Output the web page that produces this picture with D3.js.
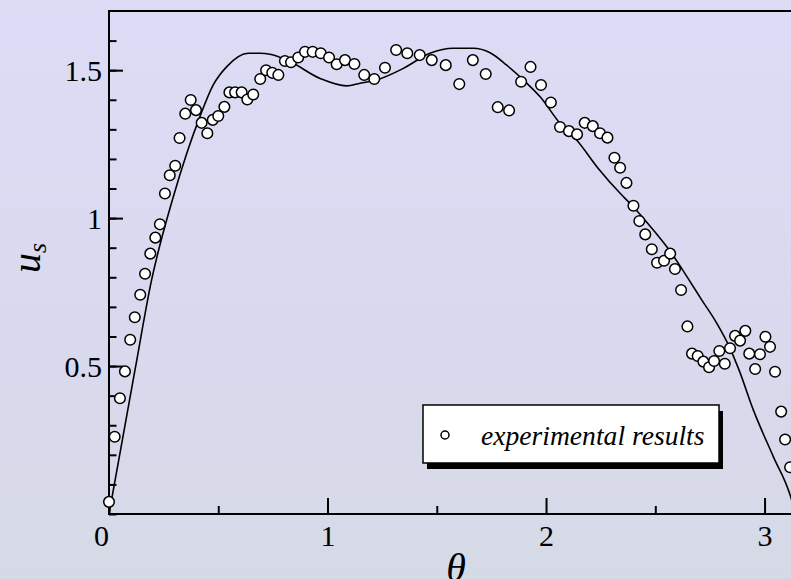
<!DOCTYPE html>
<html>
<head>
<meta charset="utf-8">
<script src="https://cdn.jsdelivr.net/npm/d3@7.9.0/dist/d3.min.js"></script>
<style>
  html, body { margin: 0; padding: 0; overflow: hidden; }
  svg { display: block; }
  text { font-family: "Liberation Serif", "DejaVu Serif", serif; fill: #000; }
</style>
</head>
<body>
<div id="chart"></div>
<script>
// experimental points (theta, u_s)
const thetaExp = [
  0.000, 0.026, 0.050, 0.073, 0.097, 0.118, 0.143, 0.165, 0.189, 0.212,
  0.233, 0.256, 0.278, 0.303, 0.323, 0.349, 0.374, 0.398, 0.424, 0.450,
  0.475, 0.500, 0.528, 0.551, 0.577, 0.607, 0.633, 0.660, 0.692, 0.719,
  0.747, 0.775, 0.805, 0.833, 0.866, 0.897, 0.932, 0.969, 1.007, 1.042,
  1.080, 1.123, 1.168, 1.214, 1.263, 1.314, 1.365, 1.422, 1.477, 1.541,
  1.603, 1.665, 1.724, 1.779, 1.831, 1.886, 1.929, 1.977, 2.022, 2.064,
  2.105, 2.142, 2.177, 2.214, 2.247, 2.281, 2.313, 2.339, 2.368, 2.400,
  2.427, 2.454, 2.484, 2.508, 2.540, 2.568, 2.590, 2.618, 2.647, 2.668,
  2.694, 2.720, 2.746, 2.769, 2.793, 2.818, 2.842, 2.865, 2.888, 2.912,
  2.930, 2.957, 2.979, 3.004, 3.025, 3.048, 3.076, 3.094, 3.117
];
const usExp = [
  0.041, 0.261, 0.391, 0.482, 0.589, 0.665, 0.741, 0.812, 0.880, 0.934,
  0.979, 1.083, 1.145, 1.177, 1.271, 1.353, 1.399, 1.365, 1.322, 1.287,
  1.332, 1.345, 1.376, 1.425, 1.425, 1.425, 1.401, 1.418, 1.470, 1.500,
  1.491, 1.484, 1.531, 1.527, 1.543, 1.562, 1.562, 1.557, 1.543, 1.520,
  1.534, 1.521, 1.484, 1.470, 1.508, 1.568, 1.557, 1.551, 1.534, 1.517,
  1.453, 1.534, 1.487, 1.375, 1.364, 1.461, 1.511, 1.450, 1.391, 1.308,
  1.294, 1.283, 1.322, 1.311, 1.287, 1.272, 1.204, 1.170, 1.119, 1.042,
  0.990, 0.945, 0.895, 0.849, 0.856, 0.880, 0.828, 0.757, 0.634, 0.542,
  0.534, 0.515, 0.496, 0.517, 0.551, 0.508, 0.560, 0.602, 0.586, 0.619,
  0.542, 0.490, 0.540, 0.599, 0.565, 0.481, 0.346, 0.252, 0.158
];

// computed curve
const thetaCurve = [
  0.000, 0.119, 0.195, 0.290, 0.356, 0.416, 0.477, 0.539, 0.638, 0.691,
  0.737, 0.828, 0.966, 1.088, 1.149, 1.225, 1.347, 1.469, 1.576, 1.667,
  1.744, 1.820, 1.912, 1.973, 2.064, 2.140, 2.239, 2.339, 2.384, 2.491,
  2.568, 2.644, 2.713, 2.781, 2.842, 2.883, 2.949, 3.040, 3.117, Math.PI
];
const usCurve = [
  0.000, 0.487, 0.791, 1.061, 1.219, 1.343, 1.450, 1.512, 1.557, 1.557,
  1.554, 1.529, 1.472, 1.447, 1.456, 1.467, 1.506, 1.557, 1.574, 1.574,
  1.559, 1.517, 1.456, 1.410, 1.320, 1.264, 1.168, 1.084, 1.050, 0.960,
  0.888, 0.803, 0.723, 0.645, 0.560, 0.487, 0.351, 0.194, 0.064, 0.000
];

const xMajor = [0, 1, 2, 3];
const xMinor = [0.5, 1.5, 2.5];
const yMajor = [0.5, 1, 1.5];
const yMinor = d3.range(0, 17).map(i => i / 10);
const legendLabel = 'experimental results';

const width = 791;
const height = 579;

const svg = d3.select('#chart')
  .append('svg')
  .attr('width', width)
  .attr('height', height);

// background
const defs = svg.append('defs');
const grad = defs.append('linearGradient')
  .attr('id', 'bg')
  .attr('x1', 0).attr('y1', 0).attr('x2', 0).attr('y2', 1);
grad.append('stop').attr('offset', '0%').attr('stop-color', '#dddcf6');
grad.append('stop').attr('offset', '50%').attr('stop-color', '#d9d9ef');
grad.append('stop').attr('offset', '100%').attr('stop-color', '#d6dae6');

svg.append('rect')
  .attr('width', width)
  .attr('height', height)
  .attr('fill', 'url(#bg)');

const x = d3.scaleLinear().domain([0, Math.PI]).range([109, 795.5]);
const y = d3.scaleLinear().domain([0, 1.7]).range([514, 11]);

// minor ticks
svg.append('g')
  .attr('transform', `translate(${x(0)},0)`)
  .call(d3.axisLeft(y).tickValues(yMinor).tickSize(-7.5).tickSizeOuter(0).tickFormat(''))
  .call(g => g.select('.domain').remove())
  .call(g => g.selectAll('line').attr('stroke-width', 2));

svg.append('g')
  .attr('transform', `translate(0,${y(0)})`)
  .call(d3.axisBottom(x).tickValues(xMinor).tickSize(-8).tickSizeOuter(0).tickFormat(''))
  .call(g => g.select('.domain').remove())
  .call(g => g.selectAll('line').attr('stroke-width', 2));

// major ticks with labels
const yAxis = svg.append('g')
  .attr('transform', `translate(${x(0)},0)`)
  .call(d3.axisLeft(y).tickValues(yMajor).tickSize(-14).tickSizeOuter(0).tickPadding(7)
    .tickFormat(d => String(d)))
  .call(g => g.select('.domain').remove());
yAxis.selectAll('line').attr('stroke-width', 2);
yAxis.selectAll('text')
  .attr('font-family', '"Liberation Serif", serif')
  .attr('font-size', 30)
  .attr('dy', '0.34em');

const xAxis = svg.append('g')
  .attr('transform', `translate(0,${y(0)})`)
  .call(d3.axisBottom(x).tickValues(xMajor).tickSize(-16).tickSizeOuter(0).tickPadding(11)
    .tickFormat(d => String(d)))
  .call(g => g.select('.domain').remove());
xAxis.selectAll('line').attr('stroke-width', 2);
xAxis.selectAll('text')
  .attr('font-family', '"Liberation Serif", serif')
  .attr('font-size', 30)
  .attr('dx', d => d === 0 ? -8 : 0);

// frame
const [x0, x1] = x.range();
const [y0, y1] = y.range();
svg.append('path')
  .attr('d', `M${x1},${y1}H${x0}V${y0}H${x1}Z`)
  .attr('fill', 'none')
  .attr('stroke', '#000')
  .attr('stroke-width', 2);

// computed curve
const line = d3.line()
  .x(i => x(thetaCurve[i]))
  .y(i => y(usCurve[i]))
  .curve(d3.curveMonotoneX);

svg.append('path')
  .attr('d', line(d3.range(thetaCurve.length)))
  .attr('fill', 'none')
  .attr('stroke', '#000')
  .attr('stroke-width', 1.6);

// experimental points
svg.append('g')
  .selectAll('circle')
  .data(d3.range(thetaExp.length))
  .join('circle')
  .attr('cx', i => x(thetaExp[i]))
  .attr('cy', i => y(usExp[i]))
  .attr('r', 5.3)
  .attr('fill', '#fff')
  .attr('stroke', '#000')
  .attr('stroke-width', 1.5);

// legend
const legend = svg.append('g').attr('transform', 'translate(423,405)');
legend.append('rect')
  .attr('x', 4).attr('y', 6)
  .attr('width', 296).attr('height', 58)
  .attr('fill', '#000');
legend.append('rect')
  .attr('width', 296).attr('height', 58)
  .attr('fill', '#fff')
  .attr('stroke', '#000')
  .attr('stroke-width', 1.5);
legend.append('circle')
  .attr('cx', 22).attr('cy', 30)
  .attr('r', 4)
  .attr('fill', '#fff')
  .attr('stroke', '#000')
  .attr('stroke-width', 1.5);
legend.append('text')
  .attr('x', 58).attr('y', 39.5)
  .attr('font-size', 27.6)
  .attr('font-style', 'italic')
  .text(legendLabel);

// axis titles
svg.append('text')
  .attr('transform', 'translate(40,258) rotate(-90)')
  .attr('text-anchor', 'middle')
  .attr('font-style', 'italic')
  .attr('font-size', 40)
  .text('u')
  .append('tspan')
  .attr('font-size', 26)
  .attr('dy', 6)
  .text('s');

svg.append('text')
  .attr('x', 456)
  .attr('y', 581)
  .attr('text-anchor', 'middle')
  .attr('font-style', 'italic')
  .attr('font-size', 40)
  .text('θ');
</script>
</body>
</html>
